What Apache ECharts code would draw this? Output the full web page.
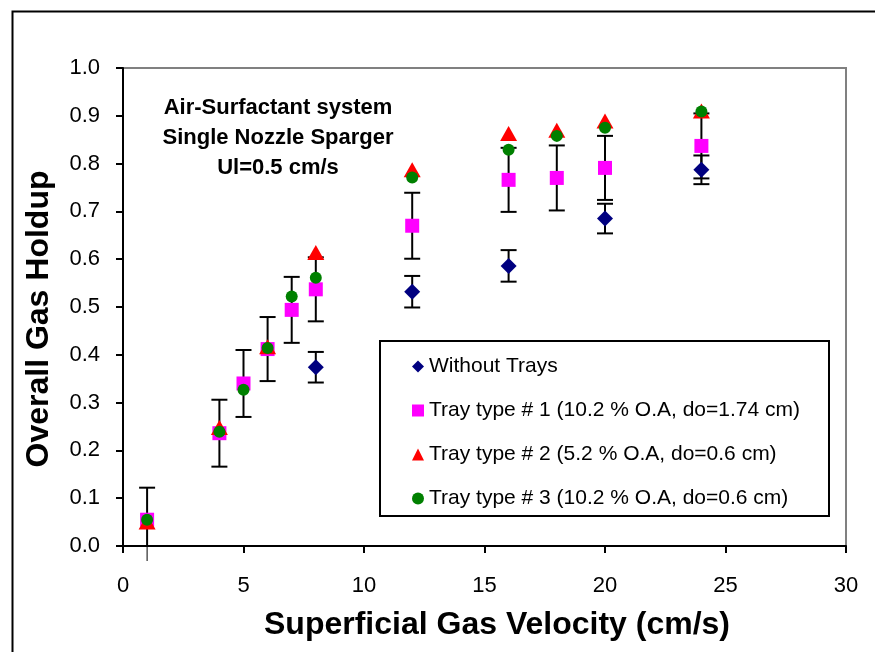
<!DOCTYPE html>
<html>
<head>
<meta charset="utf-8">
<script src="https://cdn.jsdelivr.net/npm/echarts@6/dist/echarts.min.js"></script>
<style>
html,body{margin:0;padding:0;background:#fff;}
#chart{width:875px;height:652px;}
</style>
</head>
<body>
<div id="chart"></div>
<script>
// ---- data ----
const seriesNames = [
  'Without Trays',
  'Tray type # 1 (10.2 % O.A, do=1.74 cm)',
  'Tray type # 2 (5.2 % O.A, do=0.6 cm)',
  'Tray type # 3 (10.2 % O.A, do=0.6 cm)'
];
const xWithout = [8, 12, 16, 20, 24];
const yWithout = [0.374, 0.532, 0.586, 0.685, 0.787];
const errWithout = [0.032, 0.033, 0.033, 0.031, 0.030];

const xTray1 = [1, 4, 5, 6, 7, 8, 12, 16, 18, 20, 24];
const yTray1 = [0.055, 0.236, 0.340, 0.412, 0.494, 0.537, 0.670, 0.766, 0.770, 0.791, 0.837];
const errTray1 = [0.067, 0.070, 0.070, 0.067, 0.069, 0.067, 0.069, 0.067, 0.068, 0.067, 0.068];

const xTray2 = [1, 4, 6, 8, 12, 16, 18, 20, 24];
const yTray2 = [0.050, 0.248, 0.417, 0.614, 0.787, 0.863, 0.870, 0.889, 0.910];

const xTray3 = [1, 4, 5, 6, 7, 8, 12, 16, 18, 20, 24];
const yTray3 = [0.055, 0.239, 0.327, 0.414, 0.522, 0.561, 0.771, 0.829, 0.858, 0.875, 0.909];

const annotationLines = ['Air-Surfactant system', 'Single Nozzle Sparger', 'Ul=0.5 cm/s'];
const xTitle = 'Superficial Gas Velocity (cm/s)';
const yTitle = 'Overall Gas Holdup';

// ---- build ----
const FONT = '"Liberation Sans", Arial, sans-serif';
const pts = (xs, ys) => xs.map((x, i) => [x, ys[i]]);
const errPts = (xs, ys, es) => xs.map((x, i) => [x, ys[i] - es[i], ys[i] + es[i]]);

function renderErr(params, api) {
  const x = api.value(0), lo = api.value(1), hi = api.value(2);
  const top = api.coord([x, hi]);
  const hw = 8;
  const st = { stroke: '#000', lineWidth: 2 };
  const children = [
    { type: 'line', shape: { x1: top[0] - hw, y1: top[1], x2: top[0] + hw, y2: top[1] }, style: st }
  ];
  if (lo >= 0) {
    const bot = api.coord([x, lo]);
    children.push({ type: 'line', shape: { x1: top[0], y1: top[1], x2: bot[0], y2: bot[1] }, style: st });
    children.push({ type: 'line', shape: { x1: bot[0] - hw, y1: bot[1], x2: bot[0] + hw, y2: bot[1] }, style: st });
  } else {
    const zero = api.coord([x, 0]);
    children.push({ type: 'line', shape: { x1: top[0], y1: top[1], x2: zero[0], y2: zero[1] }, style: st });
    children.push({ type: 'line', shape: { x1: zero[0], y1: zero[1], x2: zero[0], y2: zero[1] + 15 }, style: { stroke: '#000', lineWidth: 1 } });
  }
  return { type: 'group', children };
}

function renderGlint(params, api) {
  const c = api.coord([api.value(0), api.value(1)]);
  return {
    type: 'polyline',
    shape: { points: [[c[0] - 4.5, c[1] + 4.5], [c[0] - 4.5, c[1] - 4.5], [c[0] + 0.5, c[1] - 4.5]] },
    style: { stroke: '#fff', lineWidth: 1, fill: null }
  };
}

const chart = echarts.init(document.getElementById('chart'), null, { renderer: 'canvas' });
chart.setOption({
  backgroundColor: '#fff',
  animation: false,
  grid: { left: 123, top: 68, right: 29, bottom: 106, show: true, borderColor: '#808080', borderWidth: 2 },
  xAxis: {
    type: 'value', min: 0, max: 30, interval: 5,
    axisLine: { show: true, onZero: false, lineStyle: { color: '#000', width: 2 } },
    axisTick: { show: true, inside: false, length: 7, lineStyle: { color: '#000', width: 2 } },
    axisLabel: { color: '#000', fontSize: 22, fontFamily: FONT, margin: 29 },
    splitLine: { show: false }
  },
  yAxis: {
    type: 'value', min: 0, max: 1, interval: 0.1,
    axisLine: { show: true, onZero: false, lineStyle: { color: '#000', width: 2 } },
    axisTick: { show: true, inside: false, length: 7, lineStyle: { color: '#000', width: 2 } },
    axisLabel: { color: '#000', fontSize: 22, fontFamily: FONT, margin: 23, formatter: v => v.toFixed(1) },
    splitLine: { show: false }
  },
  legend: {
    orient: 'vertical', left: 407, top: 351, itemGap: 23,
    itemWidth: 12, itemHeight: 12,
    data: seriesNames,
    textStyle: { color: '#000', fontSize: 21, fontFamily: FONT },
    selectedMode: false
  },
  graphic: [
    { type: 'rect', left: 10, top: 9, shape: { width: 900, height: 700 }, style: { fill: null, stroke: '#000', lineWidth: 2 }, silent: true, z: 0 },
    { type: 'rect', left: 379, top: 340, shape: { width: 449, height: 175 }, style: { fill: '#fff', stroke: '#000', lineWidth: 2 }, silent: true, z: 1 },
    { type: 'text', x: 278, y: 138, style: { text: annotationLines.join('\n'), font: 'bold 22px ' + FONT, fill: '#000', align: 'center', verticalAlign: 'middle', lineHeight: 30 }, silent: true },
    { type: 'text', x: 497, y: 625, style: { text: xTitle, font: 'bold 32px ' + FONT, fill: '#000', align: 'center', verticalAlign: 'middle' }, silent: true },
    { type: 'text', x: 39, y: 319, rotation: Math.PI / 2, style: { text: yTitle, font: 'bold 32px ' + FONT, fill: '#000', align: 'center', verticalAlign: 'middle' }, silent: true }
  ],
  series: [
    { type: 'custom', name: 'errWithout', renderItem: renderErr, data: errPts(xWithout, yWithout, errWithout), z: 2, silent: true, encode: { x: 0, y: [1, 2] } },
    { type: 'custom', name: 'errTray1', renderItem: renderErr, data: errPts(xTray1, yTray1, errTray1), z: 2, silent: true, encode: { x: 0, y: [1, 2] } },
    { type: 'scatter', name: seriesNames[0], data: pts(xWithout, yWithout), symbol: 'diamond', symbolSize: 16, itemStyle: { color: '#000080', opacity: 1 }, z: 3 },
    { type: 'scatter', name: seriesNames[1], data: pts(xTray1, yTray1), symbol: 'rect', symbolSize: 14, itemStyle: { color: '#FF00FF', opacity: 1 }, z: 4 },
    { type: 'custom', name: 'glint', renderItem: renderGlint, data: pts(xTray1, yTray1), z: 4, silent: true },
    { type: 'scatter', name: seriesNames[2], data: pts(xTray2, yTray2), symbol: 'triangle', symbolSize: [17, 15], itemStyle: { color: '#FF0000', opacity: 1 }, z: 5 },
    { type: 'scatter', name: seriesNames[3], data: pts(xTray3, yTray3), symbol: 'circle', symbolSize: 12, itemStyle: { color: '#008000', opacity: 1 }, z: 6 }
  ]
});
</script>
</body>
</html>
